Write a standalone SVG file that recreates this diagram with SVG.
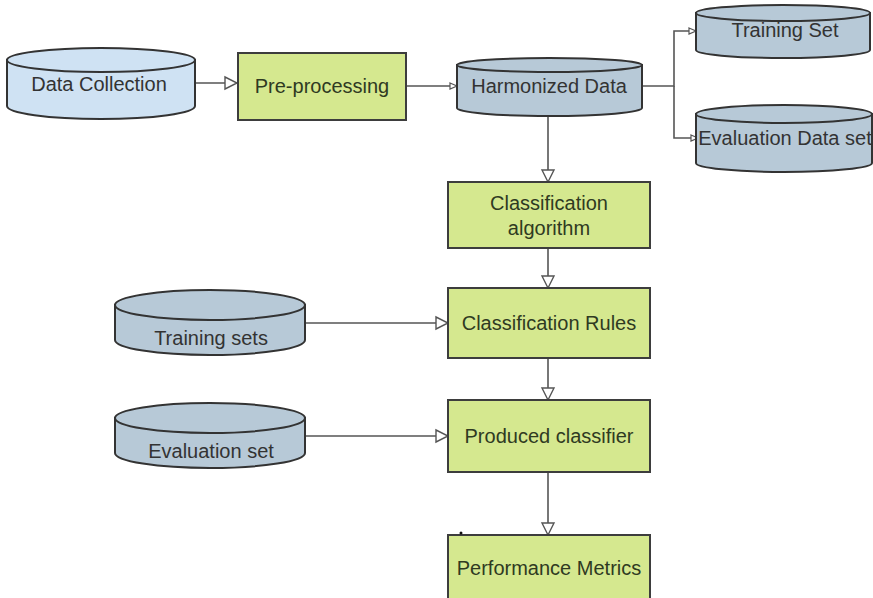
<svg xmlns="http://www.w3.org/2000/svg" width="873" height="598" viewBox="0 0 873 598">
<defs>
<style>
.cyl{stroke:#333;stroke-width:2}
.c1{fill:#cfe2f3}
.c2{fill:#b7c9d7}
.box{fill:#d5e88f;stroke:#3d3d3d;stroke-width:2}
.t{font-family:"Liberation Sans",Arial,sans-serif;font-size:20px;text-anchor:middle;fill:#333}
.tg{fill:#2f3a22}
.con{fill:none;stroke:#555;stroke-width:1.6}
</style>
<marker id="big" markerUnits="userSpaceOnUse" markerWidth="16" markerHeight="16" refX="13" refY="7" orient="auto" viewBox="0 0 16 14">
<path d="M1,1 L13,7 L1,13 Z" fill="#fff" stroke="#555" stroke-width="1.4"/>
</marker>
<marker id="small" markerUnits="userSpaceOnUse" markerWidth="10" markerHeight="10" refX="8" refY="4" orient="auto" viewBox="0 0 10 8">
<path d="M1,1 L8,4 L1,7 Z" fill="#fff" stroke="#555" stroke-width="1.2"/>
</marker>
</defs>
<g id="connectors">
<path class="con" d="M195,83 H237" marker-end="url(#big)"/>
<path class="con" d="M406,86 H457" marker-end="url(#small)"/>
<path class="con" d="M642,86 H674 V31 H696" marker-end="url(#small)"/>
<path class="con" d="M674,86 V138 H698" marker-end="url(#small)"/>
<path class="con" d="M548,116 V182" marker-end="url(#big)"/>
<path class="con" d="M548,248 V288" marker-end="url(#big)"/>
<path class="con" d="M305,323 H448" marker-end="url(#big)"/>
<path class="con" d="M548,358 V400" marker-end="url(#big)"/>
<path class="con" d="M305,436 H448" marker-end="url(#big)"/>
<path class="con" d="M548,472 V535" marker-end="url(#big)"/>
</g>
<g id="data-collection">
<path class="cyl c1" d="M7,60 V106 A94,13 0 0 0 195,106 V60 Z"/>
<ellipse class="cyl c1" cx="101" cy="60" rx="94" ry="12"/>
<text class="t" x="99" y="91">Data Collection</text>
</g>
<g id="pre-processing">
<rect class="box" x="238" y="53" width="168" height="67"/>
<text class="t tg" x="322" y="93">Pre-processing</text>
</g>
<g id="harmonized-data">
<path class="cyl c2" d="M457,65 V108 A92.5,8 0 0 0 642,108 V65 Z"/>
<ellipse class="cyl c2" cx="549.5" cy="65" rx="92.5" ry="7"/>
<text class="t" x="549" y="93">Harmonized Data</text>
</g>
<g id="training-set">
<path class="cyl c2" d="M696,13 V50 A87,8 0 0 0 870,50 V13 Z"/>
<ellipse class="cyl c2" cx="783" cy="13" rx="87" ry="8"/>
<text class="t" x="785" y="37">Training Set</text>
</g>
<g id="evaluation-data-set">
<path class="cyl c2" d="M696,114 V163 A88,9 0 0 0 872,163 V114 Z"/>
<ellipse class="cyl c2" cx="784" cy="114" rx="88" ry="9"/>
<text class="t" x="785" y="145">Evaluation Data set</text>
</g>
<g id="classification-algorithm">
<rect class="box" x="448" y="182" width="202" height="66"/>
<text class="t tg" x="549" y="210">Classification</text>
<text class="t tg" x="549" y="235">algorithm</text>
</g>
<g id="training-sets">
<path class="cyl c2" d="M115,305 V340 A95,15 0 0 0 305,340 V305 Z"/>
<ellipse class="cyl c2" cx="210" cy="305" rx="95" ry="15"/>
<text class="t" x="211" y="345">Training sets</text>
</g>
<g id="classification-rules">
<rect class="box" x="448" y="288" width="202" height="70"/>
<text class="t tg" x="549" y="330">Classification Rules</text>
</g>
<g id="evaluation-set">
<path class="cyl c2" d="M115,418 V453 A95,15 0 0 0 305,453 V418 Z"/>
<ellipse class="cyl c2" cx="210" cy="418" rx="95" ry="15"/>
<text class="t" x="211" y="458">Evaluation set</text>
</g>
<g id="produced-classifier">
<rect class="box" x="448" y="400" width="202" height="72"/>
<text class="t tg" x="549" y="443">Produced classifier</text>
</g>
<g id="performance-metrics">
<rect class="box" x="448" y="535" width="202" height="70"/>
<text class="t tg" x="549" y="575">Performance Metrics</text>
<circle cx="461" cy="533" r="1.5" fill="#111"/>
</g>
</svg>
